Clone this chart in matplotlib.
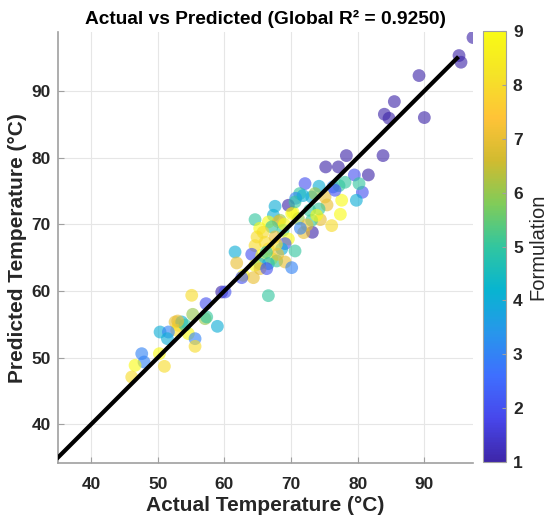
import numpy as np
import matplotlib
matplotlib.use("Agg")
import matplotlib.pyplot as plt
from matplotlib.colors import LinearSegmentedColormap

plt.rcParams['font.family'] = ['Liberation Sans', 'DejaVu Sans']

# actual / predicted temperatures (°C) and formulation id
actual = [97.3, 95.2, 95.5, 89.2, 90.0, 85.5, 84.0, 84.7, 83.8, 78.3,
          75.2, 77.1, 79.5, 81.6, 80.7, 79.8, 80.2, 78.1, 72.1, 74.2,
          77.6, 77.4, 76.1, 73.2, 74.4, 73.1, 75.4, 74.2, 71.3, 70.7,
          73.1, 70.3, 73.6, 75.1, 76.3, 72.8, 77.2, 71.9, 73.85, 71.1,
          72.4, 71.4, 76.6,
          67.6, 69.6, 70.6, 71.8, 64.6, 67.35, 70.1, 66.6, 68.35, 68.1,
          65.3, 67.1, 68.8, 64.9, 66.1, 67.6, 69.6, 69.1, 64.6, 66.6,
          68.6, 70.6, 61.6, 64.1, 65.6, 67.1, 61.85, 65.3, 66.6, 67.85,
          69.1, 70.1, 64.6, 65.35, 66.35, 62.85, 64.35, 62.6, 59.6, 66.6,
          60.1, 69.0, 67.8, 65.8, 68.0, 66.3,
          55.1, 57.25, 55.25, 57.1, 57.35, 58.95, 52.6, 53.1, 53.6, 52.85,
          54.6, 50.35, 51.6, 51.45, 55.6, 55.6, 47.6, 47.95, 46.6, 50.25,
          51.0, 46.1, 54.1, 53.0]
predicted = [98.0, 95.3, 94.3, 92.3, 86.0, 88.4, 86.5, 85.9, 80.3, 80.3,
             78.6, 78.6, 77.4, 77.4, 74.8, 73.6, 76.1, 76.3, 76.1, 75.7,
             73.6, 71.5, 69.8, 68.8, 70.7, 70.6, 72.9, 72.3, 74.6, 73.9,
             74.1, 71.8, 74.6, 74.1, 75.6, 72.1, 75.8, 68.75, 71.35, 70.85,
             69.9, 69.4, 75.1,
             72.7, 72.85, 73.35, 74.3, 70.7, 71.35, 71.6, 70.35, 70.6, 70.4,
             69.4, 69.6, 69.1, 68.1, 67.3, 68.1, 67.8, 67.1, 66.8, 66.3,
             66.3, 66.0, 65.85, 65.5, 65.35, 64.85, 64.2, 64.1, 64.1, 64.5,
             64.35, 63.5, 63.85, 63.35, 63.35, 62.35, 62.0, 62.0, 59.85, 59.3,
             59.85, 70.0, 67.0, 68.8, 65.5, 65.8,
             59.35, 58.1, 56.5, 55.85, 56.1, 54.7, 55.35, 54.85, 55.35, 54.1,
             53.6, 53.85, 53.85, 52.85, 52.85, 51.7, 50.6, 49.35, 48.85, 50.6,
             48.7, 47.1, 54.9, 55.5]
formulation = [1, 1, 1, 1, 1, 1, 1, 1, 1, 1,
               1, 1, 2, 1, 2, 4, 5, 5, 2, 4,
               9, 9, 8, 1, 7, 5, 7, 5, 5, 3,
               4, 9, 6, 7, 3, 5, 5, 7, 9, 6,
               7, 3, 2,
               4, 1, 5, 4, 5, 4, 9, 9, 6, 7,
               9, 5, 5, 8, 8, 7, 9, 2, 8, 8,
               4, 5, 4, 2, 9, 9, 7, 4, 4, 5,
               7, 3, 9, 7, 2, 9, 7, 2, 1, 5,
               2, 9, 8, 8, 7, 5,
               8, 2, 6, 6, 5, 4, 7, 8, 4, 8,
               9, 4, 3, 4, 3, 8, 3, 3, 9, 9,
               8, 8, 5, 7]
r2 = 0.9250
line_range = [35, 94.9]

# approximate MATLAB parula
parula_pts = [(0.2422, 0.1504, 0.6603), (0.2803, 0.2782, 0.9221),
              (0.2440, 0.4358, 0.9988), (0.1540, 0.5902, 0.9218),
              (0.0297, 0.7082, 0.8163), (0.1938, 0.7758, 0.6251),
              (0.5044, 0.7993, 0.3480), (0.8185, 0.7327, 0.1882),
              (0.9990, 0.7653, 0.2164), (0.9598, 0.8906, 0.1537),
              (0.9769, 0.9839, 0.0805)]
parula = LinearSegmentedColormap.from_list('parula', parula_pts)

fig = plt.figure(figsize=(5.5, 5.28), dpi=100)
ax = fig.add_axes([0.105, 0.123, 0.755, 0.816])
cax = fig.add_axes([0.878, 0.125, 0.042, 0.816])

sc = ax.scatter(actual, predicted, c=formulation, cmap=parula, vmin=1, vmax=9,
                s=85, alpha=0.62, edgecolors='none', zorder=2)
ax.plot(line_range, line_range, color='black', lw=3, zorder=3)

ax.set_xlim(35, 97.3)
ax.set_ylim(34.2, 98.8)
ax.set_xticks([40, 50, 60, 70, 80, 90])
ax.set_yticks([40, 50, 60, 70, 80, 90])
ax.grid(True, color='#e6e6e6', lw=0.8, zorder=0)
ax.set_axisbelow(True)
for side in ['top', 'right']:
    ax.spines[side].set_visible(False)
for side in ['left', 'bottom']:
    ax.spines[side].set_color('#a0a0a0')
    ax.spines[side].set_linewidth(1.2)
ax.tick_params(direction='in', length=4, color='#a0a0a0', labelsize=12.5,
               labelcolor='#262626')
ax.tick_params(axis='x', pad=10)
ax.tick_params(axis='y', pad=5)
for lab in ax.get_xticklabels() + ax.get_yticklabels():
    lab.set_fontweight('bold')

ax.set_xlabel('Actual Temperature (°C)', fontsize=15, fontweight='bold',
              color='#262626', labelpad=3)
ax.set_ylabel('Predicted Temperature (°C)', fontsize=15, fontweight='bold',
              color='#262626', labelpad=3)
ax.set_title(f'Actual vs Predicted (Global R² = {r2:.4f})', fontsize=13.8,
             fontweight='bold', pad=6)

cb = fig.colorbar(sc, cax=cax)
cb.solids.set_alpha(1)
cb.set_ticks(range(1, 10))
cb.outline.set_edgecolor('#a0a0a0')
cax.tick_params(direction='in', length=3, color='#a0a0a0', labelsize=12.5,
                labelcolor='#262626', pad=5)
for lab in cax.get_yticklabels():
    lab.set_fontweight('bold')
cb.set_label('Formulation', fontsize=14.5, color='#262626', labelpad=4)

fig.savefig('out.png', dpi=100)
